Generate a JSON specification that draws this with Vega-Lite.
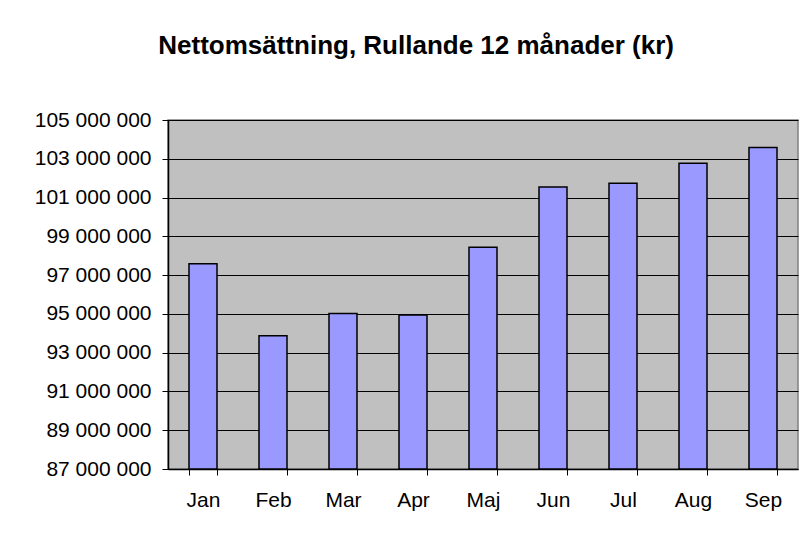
{
  "$schema": "https://vega.github.io/schema/vega-lite/v6.json",
  "autosize": {"type": "none"},
  "width": 630,
  "height": 349,
  "padding": {"left": 168, "top": 120, "right": 9, "bottom": 72},
  "background": "white",
  "title": {
    "text": "Nettomsättning, Rullande 12 månader (kr)",
    "font": "Liberation Sans",
    "fontSize": 26,
    "fontWeight": "bold",
    "color": "black",
    "anchor": "middle",
    "frame": "bounds",
    "offset": 50
  },
  "config": {
    "locale": {"number": {"decimal": ",", "thousands": " ", "grouping": [3], "currency": ["", " kr"]}},
    "view": {"fill": "#C0C0C0", "stroke": "#808080", "strokeWidth": 1.5},
    "axis": {"labelFont": "Liberation Sans", "labelFontSize": 21, "labelColor": "black", "tickColor": "black", "domainColor": "black", "gridColor": "black", "gridOpacity": 1}
  },
  "data": {
    "values": [
      {"month": "Jan", "value": 97580000},
      {"month": "Feb", "value": 93870000},
      {"month": "Mar", "value": 95020000},
      {"month": "Apr", "value": 94940000},
      {"month": "Maj", "value": 98440000},
      {"month": "Jun", "value": 101540000},
      {"month": "Jul", "value": 101740000},
      {"month": "Aug", "value": 102770000},
      {"month": "Sep", "value": 103580000}
    ]
  },
  "mark": {"type": "bar", "fill": "#9999FF", "stroke": "black", "strokeWidth": 1.5},
  "encoding": {
    "x": {
      "field": "month", "type": "nominal", "sort": null,
      "scale": {"paddingInner": 0.6, "paddingOuter": 0.3},
      "axis": {"title": null, "labelAngle": 0, "tickBand": "extent", "tickSize": 6, "labelPadding": 14, "domainWidth": 1.5, "grid": false}
    },
    "y": {
      "field": "value", "type": "quantitative",
      "scale": {"domain": [87000000, 105000000], "nice": false, "zero": false},
      "axis": {"title": null, "values": [87000000, 89000000, 91000000, 93000000, 95000000, 97000000, 99000000, 101000000, 103000000, 105000000], "format": ",.0f", "tickSize": 6, "labelPadding": 11, "domainWidth": 1.5, "gridWidth": 1}
    },
    "y2": {"datum": 87000000}
  }
}
